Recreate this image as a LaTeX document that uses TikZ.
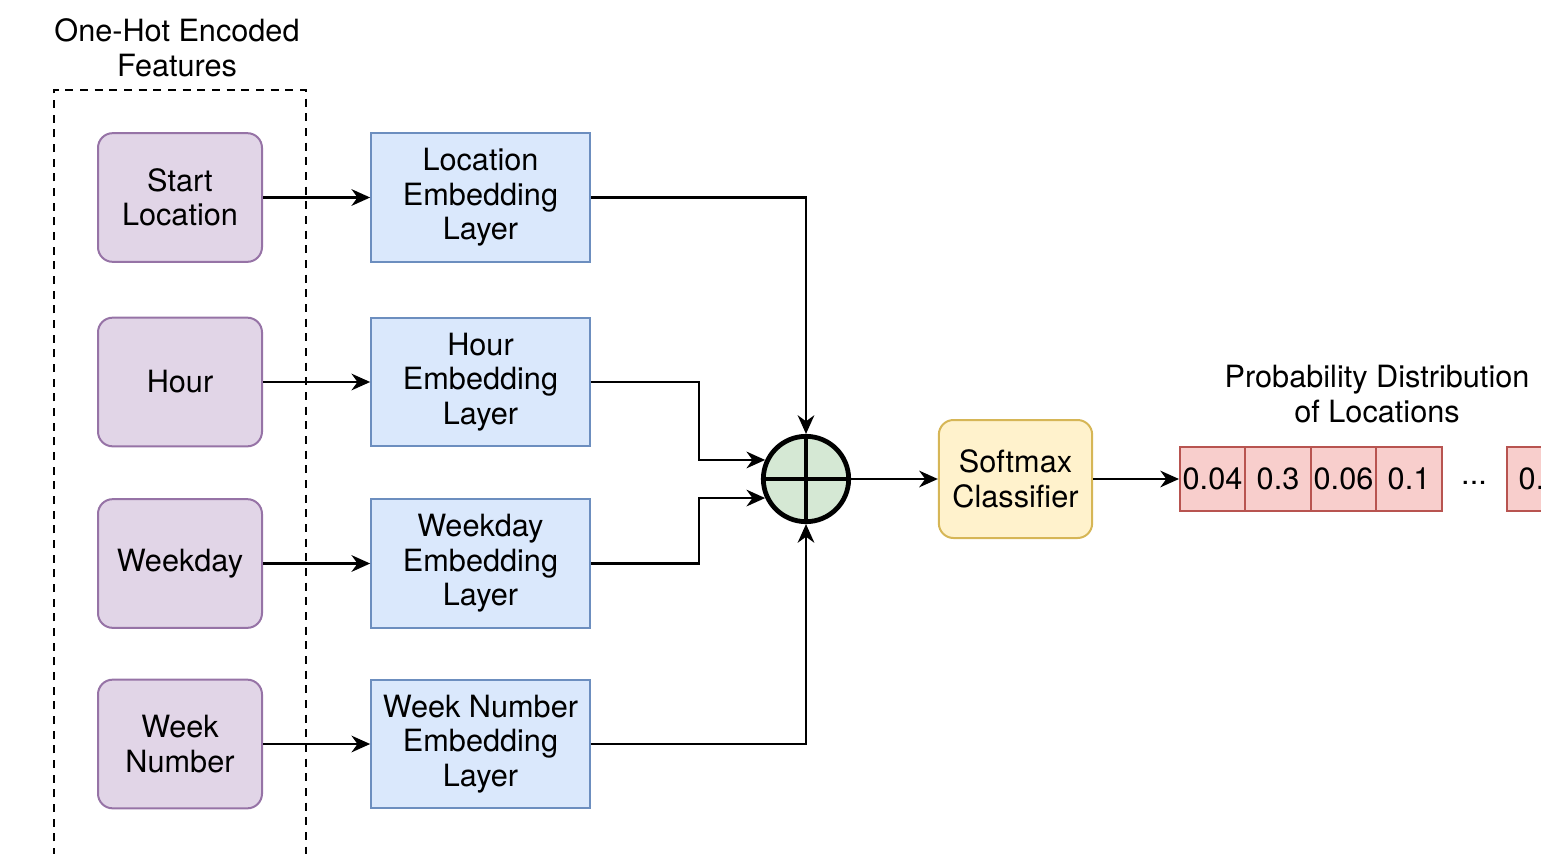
\documentclass[tikz,border=0pt]{standalone}
\usepackage{fontspec}
\setmainfont{TeX Gyre Heros}
\usetikzlibrary{arrows.meta}
\begin{document}
\begin{tikzpicture}[x=0.75pt,y=-0.75pt,
  every node/.style={font=\fontsize{23}{25.9}\selectfont, align=center, inner sep=0pt},
  feat/.style={draw=featline, fill=featfill, line width=1.5pt, rounded corners=11pt, minimum width=123pt, minimum height=96.5pt},
  emb/.style={draw=embline, fill=embfill, line width=1.5pt, minimum width=164pt, minimum height=96.5pt},
  cell/.style={draw=cellline, fill=cellfill, line width=1.3pt, minimum width=49pt, minimum height=48pt},
  conn/.style={line width=1.7pt, -{Stealth[length=14pt,width=12.5pt,inset=4.5pt]}},
]
\definecolor{featfill}{HTML}{E1D5E7}
\definecolor{featline}{HTML}{9673A6}
\definecolor{embfill}{HTML}{DAE8FC}
\definecolor{embline}{HTML}{6C8EBF}
\definecolor{sumfill}{HTML}{D5E8D4}
\definecolor{softfill}{HTML}{FFF2CC}
\definecolor{softline}{HTML}{D6B656}
\definecolor{cellfill}{HTML}{F8CECC}
\definecolor{cellline}{HTML}{B85450}
\useasboundingbox (0,0) rectangle (1541,853);
\clip (0,0) rectangle (1541,853);

\node (title) at (177,48) {One-Hot Encoded\\Features};
\draw[line width=1.6pt, dash pattern=on 6pt off 5pt] (54,900) -- (54,90) -- (306,90) -- (306,900);

\node[feat] (sl) at (180,197.5) {Start\\Location};
\node[feat] (hr) at (180,382) {Hour};
\node[feat] (wd) at (180,563.5) {Weekday};
\node[feat] (wn) at (180,744) {Week\\Number};

\node[emb] (le) at (480.5,197.5) {Location\\Embedding\\Layer};
\node[emb] (he) at (480.5,382) {Hour\\Embedding\\Layer};
\node[emb] (we) at (480.5,563.5) {Weekday\\Embedding\\Layer};
\node[emb] (ne) at (480.5,744) {Week Number\\Embedding\\Layer};

\node[circle, draw, fill=sumfill, line width=3.6pt, minimum size=64pt] (sum) at (806,479) {};
\draw[line width=3.6pt] (sum.north) -- (sum.south) (sum.west) -- (sum.east);

\node[draw=softline, fill=softfill, line width=1.5pt, rounded corners=11pt, minimum width=115pt, minimum height=88.5pt] (sm) at (1015.5,479) {Softmax\\Classifier};

\node (ptitle) at (1377,394) {Probability Distribution\\of Locations};
\node[cell] (c1) at (1212.5,479) {0.04};
\node[cell] (c2) at (1278,479) {0.3};
\node[cell] (c3) at (1343.5,479) {0.06};
\node[cell] (c4) at (1409,479) {0.1};
\node (dots) at (1474,483) {...};
\node[cell] (c5) at (1540,479) {0.0};

\draw[conn] (sl.east) -- (le.west);
\draw[conn] (hr.east) -- (he.west);
\draw[conn] (wd.east) -- (we.west);
\draw[conn] (wn.east) -- (ne.west);

\draw[conn] (le.east) -| (sum.north);
\draw[conn] (he.east) -- ++(108,0) |- (sum.155);
\draw[conn] (we.east) -- ++(108,0) |- (sum.205);
\draw[conn] (ne.east) -| (sum.south);
\draw[conn] (sum.east) -- (sm.west);
\draw[conn] (sm.east) -- (c1.west);
\end{tikzpicture}
\end{document}
